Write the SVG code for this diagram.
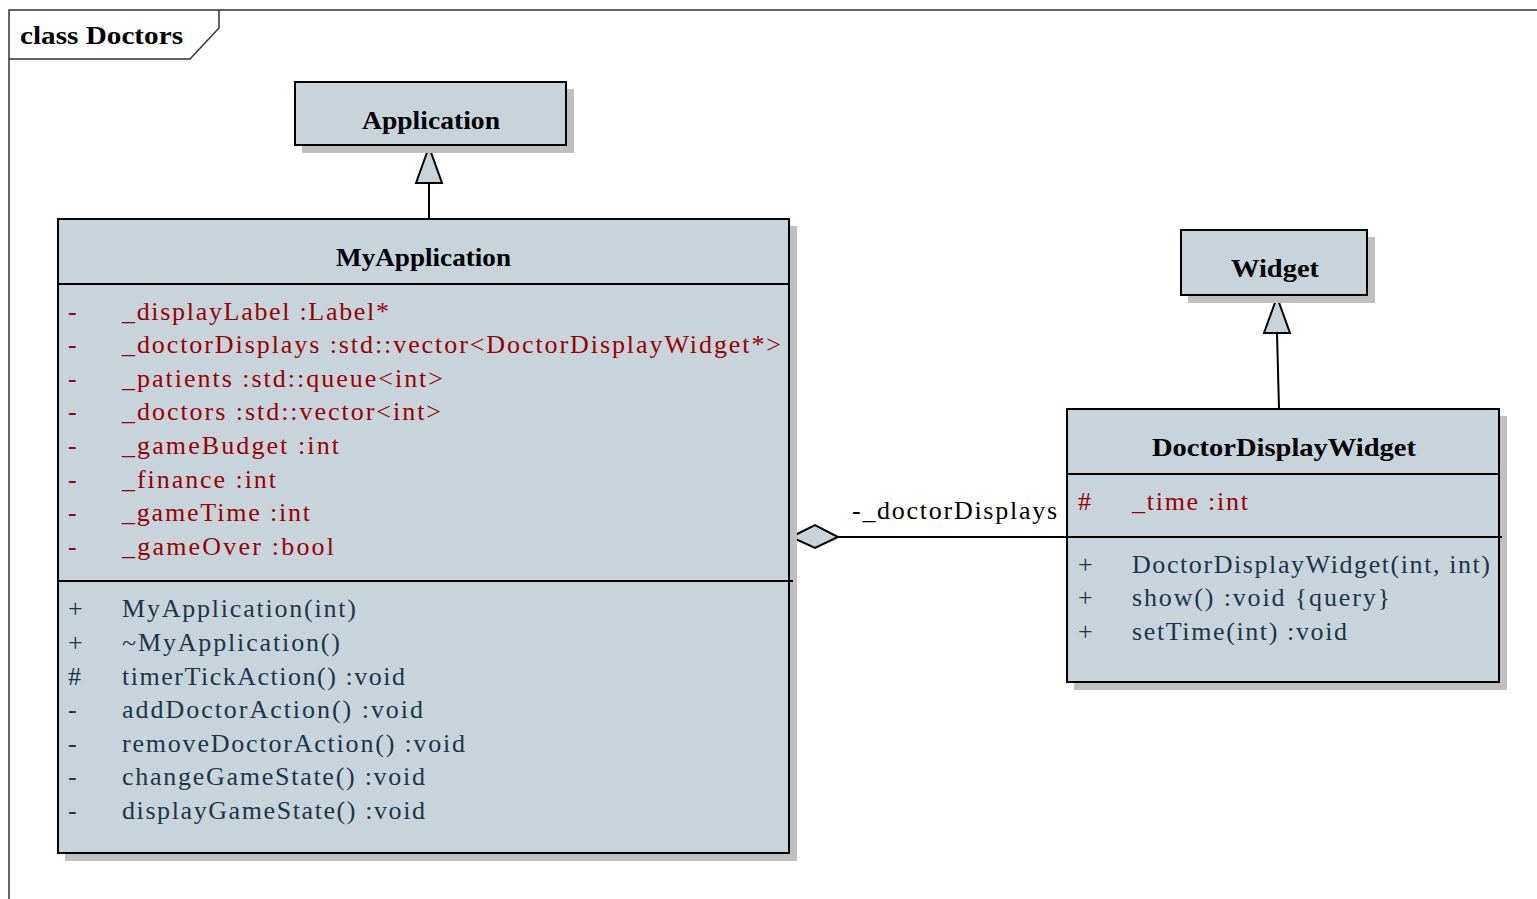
<svg xmlns="http://www.w3.org/2000/svg" width="1537" height="899" viewBox="0 0 1537 899">
<style>
.shadow{fill:#c0c0c0;stroke:none}
.box{fill:#c8d4dc;stroke:#000;stroke-width:2}
.div{stroke:#000;stroke-width:2}
.title{font-family:"Liberation Serif",serif;font-weight:bold;font-size:26px;fill:#000;text-anchor:start}
.attr{font-family:"Liberation Serif",serif;font-size:26px;fill:#990000}
.op{font-family:"Liberation Serif",serif;font-size:26px;fill:#1b3549}
.lbl{font-family:"Liberation Serif",serif;font-size:26px;fill:#000}
.conn{stroke:#000;stroke-width:2;fill:none}
.head{fill:#c8d4dc;stroke:#000;stroke-width:2}
</style>
<rect width="1537" height="899" fill="#fff"/>
<g id="frame">
<path d="M9,899 V10 H1537" fill="none" stroke="#333" stroke-width="1.5"/>
<path d="M9,59 H190 L219,28 V10" fill="none" stroke="#333" stroke-width="1.5"/>
<text class="title" x="20" y="44" textLength="163" lengthAdjust="spacingAndGlyphs">class Doctors</text>
</g>
<g id="connectors">
<line class="conn" x1="429" y1="183" x2="429" y2="219"/>
<polygon class="head" points="429,147 416,183 442,183"/>
<line class="conn" x1="1277" y1="333" x2="1279" y2="409"/>
<polygon class="head" points="1277,297 1264,333 1290,333"/>
<line class="conn" x1="838" y1="537" x2="1067" y2="537"/>
<polygon class="head" points="791,537 815,525 838,537 815,548"/>
<text class="lbl" x="852" y="519" textLength="205" lengthAdjust="spacing">-_doctorDisplays</text>
</g>
<g id="Application">
<rect class="shadow" x="302" y="89" width="272" height="64"/>
<rect class="box" x="295" y="82" width="271" height="63"/>
<text class="title" x="362" y="129" textLength="138" lengthAdjust="spacingAndGlyphs">Application</text>
</g>
<g id="MyApplication">
<rect class="shadow" x="65" y="226" width="732" height="635"/>
<rect class="box" x="58" y="219" width="731" height="634"/>
<line class="div" x1="58" y1="284" x2="789" y2="284"/>
<line class="div" x1="58" y1="581" x2="793" y2="581"/>
<text class="title" x="336" y="266" textLength="175" lengthAdjust="spacingAndGlyphs">MyApplication</text>
<g class="attr">
<text x="68" y="320">-</text><text x="122" y="320" textLength="267" lengthAdjust="spacing">_displayLabel :Label*</text>
<text x="68" y="353">-</text><text x="122" y="353" textLength="659" lengthAdjust="spacing">_doctorDisplays :std::vector&lt;DoctorDisplayWidget*&gt;</text>
<text x="68" y="387">-</text><text x="122" y="387" textLength="321" lengthAdjust="spacing">_patients :std::queue&lt;int&gt;</text>
<text x="68" y="420">-</text><text x="122" y="420" textLength="319" lengthAdjust="spacing">_doctors :std::vector&lt;int&gt;</text>
<text x="68" y="454">-</text><text x="122" y="454" textLength="217" lengthAdjust="spacing">_gameBudget :int</text>
<text x="68" y="488">-</text><text x="122" y="488" textLength="154" lengthAdjust="spacing">_finance :int</text>
<text x="68" y="521">-</text><text x="122" y="521" textLength="188" lengthAdjust="spacing">_gameTime :int</text>
<text x="68" y="555">-</text><text x="122" y="555" textLength="212" lengthAdjust="spacing">_gameOver :bool</text>
</g>
<g class="op">
<text x="68" y="617">+</text><text x="122" y="617" textLength="234" lengthAdjust="spacing">MyApplication(int)</text>
<text x="68" y="651">+</text><text x="122" y="651" textLength="218" lengthAdjust="spacing">~MyApplication()</text>
<text x="68" y="685">#</text><text x="122" y="685" textLength="283" lengthAdjust="spacing">timerTickAction() :void</text>
<text x="68" y="718">-</text><text x="122" y="718" textLength="301" lengthAdjust="spacing">addDoctorAction() :void</text>
<text x="68" y="752">-</text><text x="122" y="752" textLength="343" lengthAdjust="spacing">removeDoctorAction() :void</text>
<text x="68" y="785">-</text><text x="122" y="785" textLength="303" lengthAdjust="spacing">changeGameState() :void</text>
<text x="68" y="819">-</text><text x="122" y="819" textLength="303" lengthAdjust="spacing">displayGameState() :void</text>
</g>
</g>
<g id="Widget">
<rect class="shadow" x="1188" y="237" width="187" height="66"/>
<rect class="box" x="1181" y="230" width="186" height="65"/>
<text class="title" x="1231" y="277" textLength="88" lengthAdjust="spacingAndGlyphs">Widget</text>
</g>
<g id="DoctorDisplayWidget">
<rect class="shadow" x="1074" y="416" width="433" height="274"/>
<rect class="box" x="1067" y="409" width="432" height="273"/>
<line class="div" x1="1067" y1="474" x2="1499" y2="474"/>
<line class="div" x1="1060" y1="537" x2="1502" y2="537"/>
<text class="title" x="1152" y="456" textLength="264" lengthAdjust="spacingAndGlyphs">DoctorDisplayWidget</text>
<g class="attr">
<text x="1078" y="510">#</text><text x="1132" y="510" textLength="116" lengthAdjust="spacing">_time :int</text>
</g>
<g class="op">
<text x="1078" y="573">+</text><text x="1132" y="573" textLength="358" lengthAdjust="spacing">DoctorDisplayWidget(int, int)</text>
<text x="1078" y="606">+</text><text x="1132" y="606" textLength="258" lengthAdjust="spacing">show() :void {query}</text>
<text x="1078" y="640">+</text><text x="1132" y="640" textLength="215" lengthAdjust="spacing">setTime(int) :void</text>
</g>
</g>
</svg>
